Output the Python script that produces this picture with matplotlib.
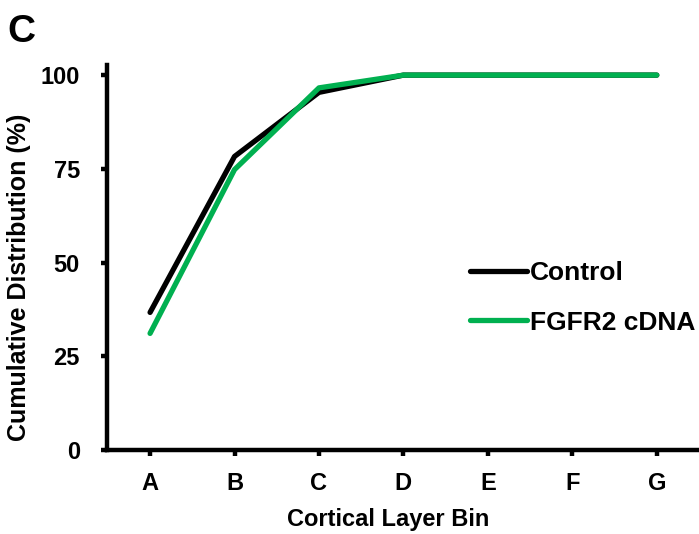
import matplotlib
matplotlib.use("Agg")
import matplotlib.pyplot as plt

bins = ["A", "B", "C", "D", "E", "F", "G"]
control = [36.7, 78.3, 95.4, 100, 100, 100, 100]
fgfr2 = [31.1, 74.8, 96.6, 100, 100, 100, 100]
yticks = [0, 25, 50, 75, 100]

plt.rcParams['font.family'] = ['Liberation Sans', 'DejaVu Sans']
plt.rcParams['font.weight'] = 'bold'

fig = plt.figure(figsize=(6.99, 5.34), dpi=100)
ax = fig.add_axes([107/699, 1 - 450/534, (699 - 107)/699, (450 - 65)/534])

x = list(range(len(bins)))
ax.plot(x, control, color="black", lw=3.8, label="Control", solid_capstyle="round")
ax.plot(x, fgfr2, color="#00B050", lw=3.8, label="FGFR2 cDNA", solid_capstyle="round")

ax.set_xlim(-0.51, 6.5)
ax.set_ylim(0, 102.7)
ax.set_xticks(x)
ax.set_xticklabels(bins, fontsize=17, fontweight="bold")
ax.set_yticks(yticks)
ax.set_yticklabels([str(v) for v in yticks], fontsize=17, fontweight="bold")
for s in ["top", "right"]:
    ax.spines[s].set_visible(False)
for s in ["left", "bottom"]:
    ax.spines[s].set_linewidth(3.2)
ax.tick_params(axis="both", width=3.2, length=4.5, direction="out")
ax.tick_params(axis="y", pad=15)
ax.tick_params(axis="x", pad=11)

ax.set_xlabel("Cortical Layer Bin", fontsize=17, fontweight="bold")
ax.set_ylabel("Cumulative Distribution (%)", fontsize=18, fontweight="bold")
ax.xaxis.set_label_coords((388 - 107) / 592, (450 - 508) / 385)
ax.yaxis.set_label_coords((31 - 107) / 592, (450 - 277) / 385)

leg = fig.legend(loc="center left", bbox_to_anchor=(470/699, 1 - 298/534), frameon=False,
                 handlelength=2.15, handletextpad=0.12, labelspacing=0.95,
                 borderpad=0, borderaxespad=0,
                 prop={"size": 19, "weight": "bold"})

fig.text(7/699, 1 - 42/534, "C", fontsize=28, fontweight="bold")

fig.savefig("out.png", dpi=100)
